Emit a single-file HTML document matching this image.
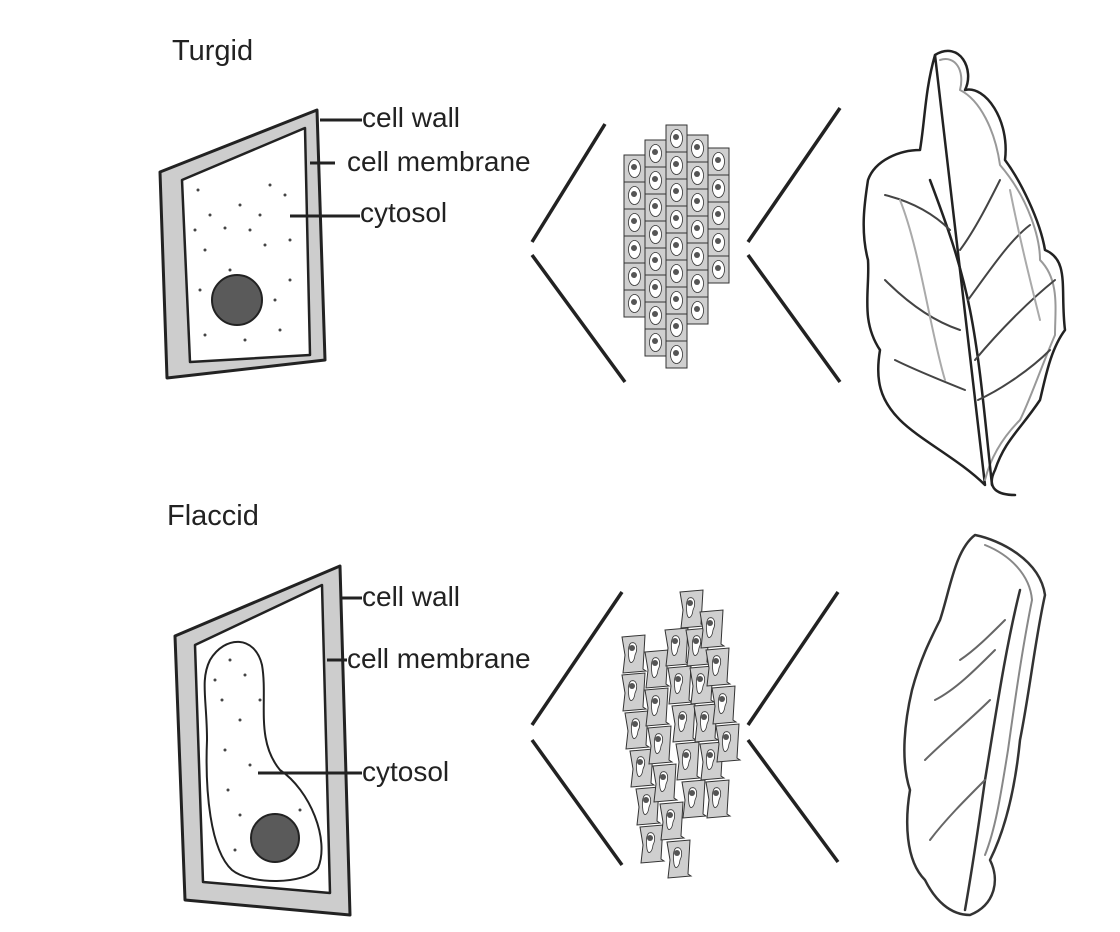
<!DOCTYPE html>
<html><head><meta charset="utf-8"><style>
html,body{margin:0;padding:0;background:#fff}
svg{display:block}
text{font-family:"Liberation Sans",sans-serif;fill:#222}
</style></head><body>
<svg width="1120" height="932" viewBox="0 0 1120 932" xmlns="http://www.w3.org/2000/svg">
<defs>
<g id="c"><rect x="0" y="0" width="21" height="27" fill="#cfcfcf" stroke="#333" stroke-width="1"/><ellipse cx="10.5" cy="13.5" rx="6" ry="9" fill="#fff" stroke="#333" stroke-width="0.8"/><circle cx="10" cy="12" r="3" fill="#555"/></g>
<g id="f"><path d="M0 2 L23 0 L21 34 L24 36 L1 38 L3 20 Z" fill="#cfcfcf" stroke="#333" stroke-width="1"/><path d="M9 8 C15 6 16 14 13 20 C12 28 8 30 7 24 C6 18 6 10 9 8Z" fill="#fff" stroke="#333" stroke-width="0.8"/><circle cx="10" cy="13" r="3" fill="#555"/></g>
</defs>
<text x="172" y="60" font-size="29">Turgid</text>
<text x="167" y="525" font-size="29">Flaccid</text>

<!-- top cell -->
<path d="M160 172 L317 110 L325 360 L167 378 Z" fill="#cdcdcd" stroke="#222" stroke-width="3" stroke-linejoin="round"/>
<path d="M182 180 L305 128 L310 355 L190 362 Z" fill="#fff" stroke="#222" stroke-width="2.5" stroke-linejoin="round"/>
<circle cx="237" cy="300" r="25" fill="#5a5a5a" stroke="#222" stroke-width="2"/>
<g fill="#444">
<circle cx="198" cy="190" r="1.5"/><circle cx="240" cy="205" r="1.5"/><circle cx="270" cy="185" r="1.5"/><circle cx="210" cy="215" r="1.5"/><circle cx="250" cy="230" r="1.5"/><circle cx="285" cy="195" r="1.5"/><circle cx="205" cy="250" r="1.5"/><circle cx="230" cy="270" r="1.5"/><circle cx="265" cy="245" r="1.5"/><circle cx="290" cy="240" r="1.5"/><circle cx="200" cy="290" r="1.5"/><circle cx="275" cy="300" r="1.5"/><circle cx="290" cy="280" r="1.5"/><circle cx="205" cy="335" r="1.5"/><circle cx="245" cy="340" r="1.5"/><circle cx="280" cy="330" r="1.5"/><circle cx="225" cy="228" r="1.5"/><circle cx="260" cy="215" r="1.5"/><circle cx="195" cy="230" r="1.5"/>
</g>
<g stroke="#222" stroke-width="3"><line x1="320" y1="120" x2="362" y2="120"/><line x1="310" y1="163" x2="335" y2="163"/><line x1="290" y1="216" x2="360" y2="216"/></g>
<text x="362" y="127" font-size="28">cell wall</text>
<text x="347" y="171" font-size="28">cell membrane</text>
<text x="360" y="222" font-size="28">cytosol</text>

<!-- bottom cell -->
<path d="M175 636 L340 566 L350 915 L185 900 Z" fill="#cdcdcd" stroke="#222" stroke-width="3" stroke-linejoin="round"/>
<path d="M195 645 L322 585 L330 893 L203 882 Z" fill="#fff" stroke="#222" stroke-width="2.5" stroke-linejoin="round"/>
<path d="M210 660 C225 635 255 635 262 665 C268 700 255 740 280 770 C310 790 330 840 318 868 C305 885 250 885 232 870 C210 850 205 790 207 740 C207 700 200 680 210 660 Z" fill="#fff" stroke="#222" stroke-width="2"/>
<circle cx="275" cy="838" r="24" fill="#5a5a5a" stroke="#222" stroke-width="2"/>
<g fill="#444"><circle cx="230" cy="660" r="1.5"/><circle cx="245" cy="675" r="1.5"/><circle cx="222" cy="700" r="1.5"/><circle cx="240" cy="720" r="1.5"/><circle cx="225" cy="750" r="1.5"/><circle cx="250" cy="765" r="1.5"/><circle cx="228" cy="790" r="1.5"/><circle cx="240" cy="815" r="1.5"/><circle cx="300" cy="810" r="1.5"/><circle cx="235" cy="850" r="1.5"/><circle cx="260" cy="700" r="1.5"/><circle cx="215" cy="680" r="1.5"/></g>
<g stroke="#222" stroke-width="3"><line x1="340" y1="598" x2="362" y2="598"/><line x1="327" y1="660" x2="347" y2="660"/><line x1="258" y1="773" x2="362" y2="773"/></g>
<text x="362" y="606" font-size="28">cell wall</text>
<text x="347" y="668" font-size="28">cell membrane</text>
<text x="362" y="781" font-size="28">cytosol</text>

<!-- chevrons -->
<g stroke="#222" stroke-width="3.5" fill="none">
<path d="M605 124 L532 242"/><path d="M532 255 L625 382"/>
<path d="M840 108 L748 242"/><path d="M748 255 L840 382"/>
<path d="M622 592 L532 725"/><path d="M532 740 L622 865"/>
<path d="M838 592 L748 725"/><path d="M748 740 L838 862"/>
</g>

<!-- top tissue -->
<g>
<use href="#c" x="624" y="155"/><use href="#c" x="624" y="182"/><use href="#c" x="624" y="209"/><use href="#c" x="624" y="236"/><use href="#c" x="624" y="263"/><use href="#c" x="624" y="290"/>
<use href="#c" x="645" y="140"/><use href="#c" x="645" y="167"/><use href="#c" x="645" y="194"/><use href="#c" x="645" y="221"/><use href="#c" x="645" y="248"/><use href="#c" x="645" y="275"/><use href="#c" x="645" y="302"/><use href="#c" x="645" y="329"/>
<use href="#c" x="666" y="125"/><use href="#c" x="666" y="152"/><use href="#c" x="666" y="179"/><use href="#c" x="666" y="206"/><use href="#c" x="666" y="233"/><use href="#c" x="666" y="260"/><use href="#c" x="666" y="287"/><use href="#c" x="666" y="314"/><use href="#c" x="666" y="341"/>
<use href="#c" x="687" y="135"/><use href="#c" x="687" y="162"/><use href="#c" x="687" y="189"/><use href="#c" x="687" y="216"/><use href="#c" x="687" y="243"/><use href="#c" x="687" y="270"/><use href="#c" x="687" y="297"/>
<use href="#c" x="708" y="148"/><use href="#c" x="708" y="175"/><use href="#c" x="708" y="202"/><use href="#c" x="708" y="229"/><use href="#c" x="708" y="256"/>
</g>
<!-- bottom tissue -->
<g>
<use href="#f" x="622" y="635"/><use href="#f" x="622" y="673"/><use href="#f" x="625" y="711"/><use href="#f" x="630" y="749"/><use href="#f" x="636" y="787"/><use href="#f" x="640" y="825"/>
<use href="#f" x="645" y="650"/><use href="#f" x="645" y="688"/><use href="#f" x="648" y="726"/><use href="#f" x="653" y="764"/><use href="#f" x="660" y="802"/><use href="#f" x="667" y="840"/>
<use href="#f" x="665" y="628"/><use href="#f" x="668" y="666"/><use href="#f" x="672" y="704"/><use href="#f" x="676" y="742"/><use href="#f" x="682" y="780"/>
<use href="#f" x="680" y="590"/><use href="#f" x="686" y="628"/><use href="#f" x="690" y="666"/><use href="#f" x="694" y="704"/><use href="#f" x="700" y="742"/><use href="#f" x="706" y="780"/>
<use href="#f" x="700" y="610"/><use href="#f" x="706" y="648"/><use href="#f" x="712" y="686"/><use href="#f" x="716" y="724"/>
</g>

<!-- top leaf -->
<g fill="none" stroke-linejoin="round" stroke-linecap="round">
<path d="M935 55 C960 40 975 70 965 90 C985 85 1010 120 1005 160 C1020 180 1040 220 1045 250 C1070 260 1060 290 1065 330 C1050 350 1045 380 1040 400 C1020 430 1005 440 995 470 C985 490 1000 495 1015 495 M985 485 C960 460 920 440 900 420 C880 400 875 380 880 350 C860 320 870 290 868 260 C860 230 865 200 868 180 C875 160 900 150 920 150 C925 120 925 90 935 55 Z" stroke="#222" stroke-width="2.5"/>
<path d="M940 60 C955 55 965 70 960 90 C980 100 995 130 1000 165 C1030 200 1040 240 1040 260 C1060 280 1055 310 1055 335 C1040 370 1030 400 1020 420 C1000 440 990 460 985 480" stroke="#999" stroke-width="2"/>
<path d="M930 180 C945 220 960 260 970 310 C980 360 985 420 992 485" stroke="#222" stroke-width="2.5"/>
<path d="M975 360 C1000 330 1030 300 1055 280 M968 300 C990 270 1010 240 1030 225 M960 250 C975 230 990 200 1000 180 M978 400 C1000 390 1030 370 1050 350 M960 330 C930 320 905 300 885 280 M965 390 C940 380 915 370 895 360 M950 230 C930 210 905 200 885 195" stroke="#444" stroke-width="2"/>
<path d="M900 200 C920 250 930 330 945 380 M1010 190 C1020 240 1030 280 1040 320" stroke="#aaa" stroke-width="2"/>
</g>
<!-- bottom leaf -->
<g fill="none" stroke-linejoin="round" stroke-linecap="round">
<path d="M975 535 C1000 540 1040 560 1045 595 C1035 640 1030 690 1020 740 C1015 790 1005 830 990 860 C1000 880 995 905 970 915 C950 915 935 900 925 880 C905 860 905 820 910 790 C900 760 905 720 912 690 C920 660 930 640 940 620 C950 590 955 550 975 535 Z" stroke="#333" stroke-width="2.5"/>
<path d="M985 545 C1010 555 1030 575 1032 600 C1022 650 1015 700 1008 750 C1000 800 995 830 985 855" stroke="#888" stroke-width="2"/>
<path d="M1020 590 C1005 650 995 720 985 780 C978 830 972 870 965 910" stroke="#333" stroke-width="2.5"/>
<path d="M990 700 C970 720 945 740 925 760 M995 650 C975 670 955 690 935 700 M985 780 C965 800 945 820 930 840 M1005 620 C990 635 975 650 960 660" stroke="#666" stroke-width="2"/>
</g>
</svg>
</body></html>
